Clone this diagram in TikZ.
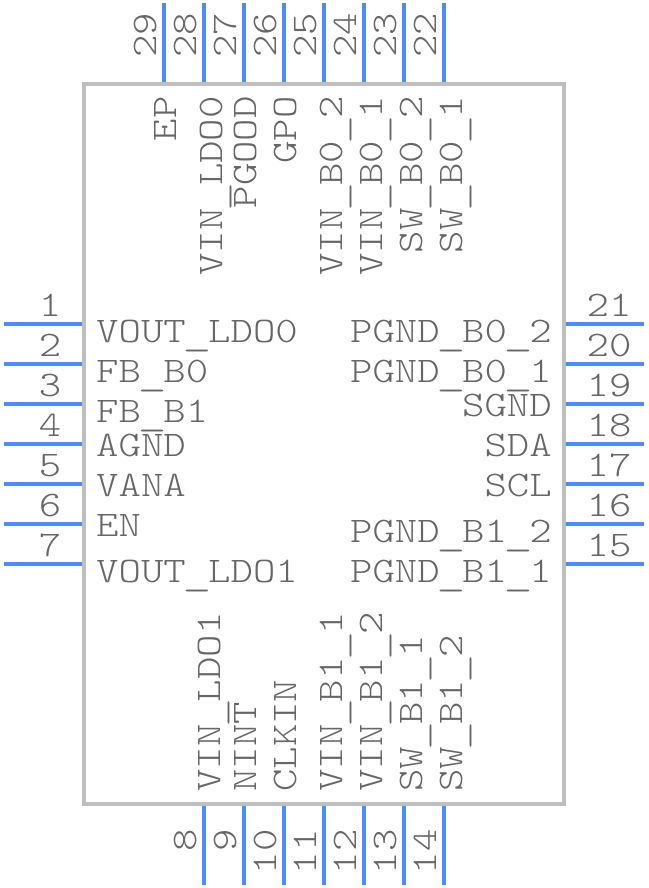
\documentclass[tikz,border=0pt]{standalone}
\usepackage{xcolor}
\usepackage{fontspec}
\setmonofont{Latin Modern Mono Light}
\usepackage{tikz}
\usetikzlibrary{positioning}
\definecolor{pinblue}{HTML}{4A8CFA}
\definecolor{bodygray}{HTML}{BFBFBF}
\definecolor{labelgray}{HTML}{666666}
\newcommand{\lowbar}{\raisebox{-3pt}{\makebox[18.9pt]{\scalebox{1.3}[1]{\_}}}}
\tikzstyle{pin}=[draw=pinblue,line width=4pt]
\tikzstyle{chip}=[draw=bodygray,line width=4pt,rectangle,minimum width=480pt,minimum height=720pt,inner sep=0pt]
\tikzstyle{pintext}=[font=\ttfamily\fontsize{36}{36}\selectfont,text=labelgray,inner sep=0pt,xscale=1.185,transform shape]
\tikzstyle{leftlabel}=[pintext,anchor=base west]
\tikzstyle{rightlabel}=[pintext,anchor=base east]
\tikzstyle{uplabel}=[rotate=90,pintext,anchor=base east]
\tikzstyle{downlabel}=[rotate=90,pintext,anchor=base west]
\tikzstyle{sidenum}=[pintext,anchor=base]

\begin{document}
\begin{tikzpicture}[x=1pt,y=-1pt]

\useasboundingbox (0,0) rectangle (648,888);

% Package outline
\node [chip] (body) at (324,444) {};

% Left pins
\coordinate (a1) at (4,324);   \coordinate (b1) at (82,324);
\coordinate (a2) at (4,364);   \coordinate (b2) at (82,364);
\coordinate (a3) at (4,404);   \coordinate (b3) at (82,404);
\coordinate (a4) at (4,444);   \coordinate (b4) at (82,444);
\coordinate (a5) at (4,484);   \coordinate (b5) at (82,484);
\coordinate (a6) at (4,524);   \coordinate (b6) at (82,524);
\coordinate (a7) at (4,564);   \coordinate (b7) at (82,564);
\draw [pin] (a1) -- (b1);
\draw [pin] (a2) -- (b2);
\draw [pin] (a3) -- (b3);
\draw [pin] (a4) -- (b4);
\draw [pin] (a5) -- (b5);
\draw [pin] (a6) -- (b6);
\draw [pin] (a7) -- (b7);
\node [sidenum] (n1) at (50,316) {1};
\node [sidenum] (n2) at (50,356) {2};
\node [sidenum] (n3) at (50,396) {3};
\node [sidenum] (n4) at (50,436) {4};
\node [sidenum] (n5) at (50,476) {5};
\node [sidenum] (n6) at (50,516) {6};
\node [sidenum] (n7) at (50,556) {7};
\node [leftlabel] (l1) at (96,342) {VOUT\lowbar LDO0};
\node [leftlabel] (l2) at (96,382) {FB\lowbar B0};
\node [leftlabel] (l3) at (96,422) {FB\lowbar B1};
\node [leftlabel] (l4) at (96,456) {AGND};
\node [leftlabel] (l5) at (96,496) {VANA};
\node [leftlabel] (l6) at (96,536) {EN};
\node [leftlabel] (l7) at (96,582) {VOUT\lowbar LDO1};

% Bottom pins
\coordinate (a8) at (204,885);  \coordinate (b8) at (204,806);
\coordinate (a9) at (244,885);  \coordinate (b9) at (244,806);
\coordinate (a10) at (284,885); \coordinate (b10) at (284,806);
\coordinate (a11) at (324,885); \coordinate (b11) at (324,806);
\coordinate (a12) at (364,885); \coordinate (b12) at (364,806);
\coordinate (a13) at (404,885); \coordinate (b13) at (404,806);
\coordinate (a14) at (444,885); \coordinate (b14) at (444,806);
\draw [pin] (a8) -- (b8);
\draw [pin] (a9) -- (b9);
\draw [pin] (a10) -- (b10);
\draw [pin] (a11) -- (b11);
\draw [pin] (a12) -- (b12);
\draw [pin] (a13) -- (b13);
\draw [pin] (a14) -- (b14);
\node [uplabel] (n8) at (196,829) {8};
\node [uplabel] (n9) at (236,829) {9};
\node [uplabel] (n10) at (276,829) {10};
\node [uplabel] (n11) at (316,829) {11};
\node [uplabel] (n12) at (356,829) {12};
\node [uplabel] (n13) at (396,829) {13};
\node [uplabel] (n14) at (436,829) {14};
\node [downlabel] (l8) at (220,792) {VIN\lowbar LDO1};
\node [downlabel] (l9) at (256,792) {NINT};
\node [downlabel] (l10) at (296,792) {CLKIN};
\node [downlabel] (l11) at (342,792) {VIN\lowbar B1\lowbar 1};
\node [downlabel] (l12) at (382,792) {VIN\lowbar B1\lowbar 2};
\node [downlabel] (l13) at (422,792) {SW\lowbar B1\lowbar 1};
\node [downlabel] (l14) at (462,792) {SW\lowbar B1\lowbar 2};

% Right pins
\coordinate (a15) at (644,564); \coordinate (b15) at (566,564);
\coordinate (a16) at (644,524); \coordinate (b16) at (566,524);
\coordinate (a17) at (644,484); \coordinate (b17) at (566,484);
\coordinate (a18) at (644,444); \coordinate (b18) at (566,444);
\coordinate (a19) at (644,404); \coordinate (b19) at (566,404);
\coordinate (a20) at (644,364); \coordinate (b20) at (566,364);
\coordinate (a21) at (644,324); \coordinate (b21) at (566,324);
\draw [pin] (a15) -- (b15);
\draw [pin] (a16) -- (b16);
\draw [pin] (a17) -- (b17);
\draw [pin] (a18) -- (b18);
\draw [pin] (a19) -- (b19);
\draw [pin] (a20) -- (b20);
\draw [pin] (a21) -- (b21);
\node [sidenum] (n15) at (609,556) {15};
\node [sidenum] (n16) at (609,516) {16};
\node [sidenum] (n17) at (609,476) {17};
\node [sidenum] (n18) at (609,436) {18};
\node [sidenum] (n19) at (609,396) {19};
\node [sidenum] (n20) at (609,356) {20};
\node [sidenum] (n21) at (609,316) {21};
\node [rightlabel] (l15) at (552,582) {PGND\lowbar B1\lowbar 1};
\node [rightlabel] (l16) at (552,542) {PGND\lowbar B1\lowbar 2};
\node [rightlabel] (l17) at (552,496) {SCL};
\node [rightlabel] (l18) at (552,456) {SDA};
\node [rightlabel] (l19) at (552,416) {SGND};
\node [rightlabel] (l20) at (552,382) {PGND\lowbar B0\lowbar 1};
\node [rightlabel] (l21) at (552,342) {PGND\lowbar B0\lowbar 2};

% Top pins
\coordinate (a22) at (444,3); \coordinate (b22) at (444,82);
\coordinate (a23) at (404,3); \coordinate (b23) at (404,82);
\coordinate (a24) at (364,3); \coordinate (b24) at (364,82);
\coordinate (a25) at (324,3); \coordinate (b25) at (324,82);
\coordinate (a26) at (284,3); \coordinate (b26) at (284,82);
\coordinate (a27) at (244,3); \coordinate (b27) at (244,82);
\coordinate (a28) at (204,3); \coordinate (b28) at (204,82);
\coordinate (a29) at (164,3); \coordinate (b29) at (164,82);
\draw [pin] (a22) -- (b22);
\draw [pin] (a23) -- (b23);
\draw [pin] (a24) -- (b24);
\draw [pin] (a25) -- (b25);
\draw [pin] (a26) -- (b26);
\draw [pin] (a27) -- (b27);
\draw [pin] (a28) -- (b28);
\draw [pin] (a29) -- (b29);
\node [downlabel] (n22) at (436,58) {22};
\node [downlabel] (n23) at (396,58) {23};
\node [downlabel] (n24) at (356,58) {24};
\node [downlabel] (n25) at (316,58) {25};
\node [downlabel] (n26) at (276,58) {26};
\node [downlabel] (n27) at (236,58) {27};
\node [downlabel] (n28) at (196,58) {28};
\node [downlabel] (n29) at (156,58) {29};
\node [uplabel] (l22) at (462,96) {SW\lowbar B0\lowbar 1};
\node [uplabel] (l23) at (422,96) {SW\lowbar B0\lowbar 2};
\node [uplabel] (l24) at (382,96) {VIN\lowbar B0\lowbar 1};
\node [uplabel] (l25) at (342,96) {VIN\lowbar B0\lowbar 2};
\node [uplabel] (l26) at (296,96) {GPO};
\node [uplabel] (l27) at (256,96) {PGOOD};
\node [uplabel] (l28) at (222,96) {VIN\lowbar LDO0};
\node [uplabel] (l29) at (176,96) {EP};

\end{tikzpicture}
\end{document}
